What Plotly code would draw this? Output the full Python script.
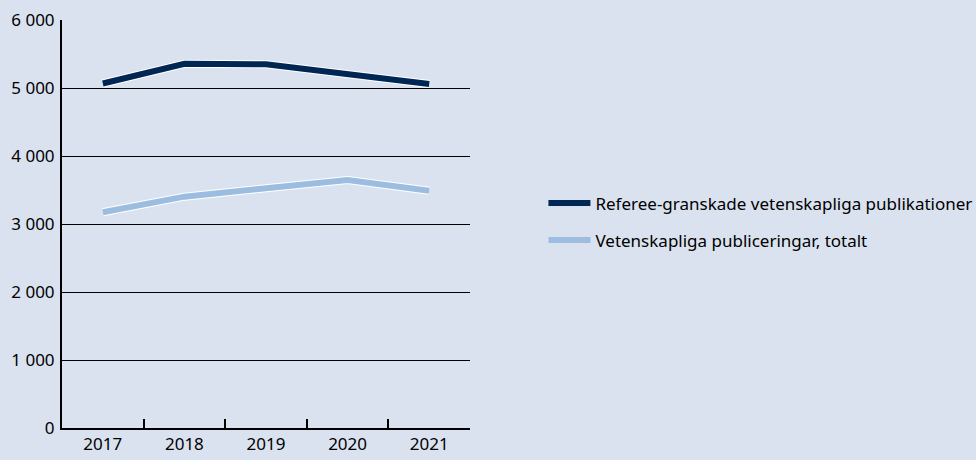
import plotly.graph_objects as go

years = ['2017', '2018', '2019', '2020', '2021']
referee = [5066, 5355, 5350, 5206, 5060]
totalt = [3172, 3402, 3525, 3647, 3490]

y_ticks = [0, 1000, 2000, 3000, 4000, 5000, 6000]
y_labels = ['0', '1 000', '2 000', '3 000', '4 000', '5 000', '6 000']

names = ['Referee-granskade vetenskapliga publikationer', 'Vetenskapliga publiceringar, totalt']
colors = ['#002654', '#9dbde0']
bg = '#dbe2ef'

fig = go.Figure()

# white outline under each line, then the coloured line on top
for i, (vals, name, col) in enumerate([(referee, names[0], colors[0]), (totalt, names[1], colors[1])]):
    fig.add_trace(go.Scatter(x=years, y=vals, mode='lines', showlegend=False,
                             hoverinfo='skip', line=dict(color='white', width=8)))
    fig.add_trace(go.Scatter(x=years, y=vals, mode='lines', name=name,
                             legendgroup=str(i), line=dict(color=col, width=6)))

fig.update_layout(
    width=976, height=460,
    paper_bgcolor=bg, plot_bgcolor=bg,
    margin=dict(l=62, r=506, t=20, b=32, autoexpand=False),
    font=dict(family='Noto Sans', size=17, color='black'),
    legend=dict(x=1.18, y=0.505, xanchor='left', yanchor='middle',
                bgcolor='rgba(0,0,0,0)', tracegroupgap=12, itemwidth=42,
                font=dict(size=17)),
    xaxis=dict(type='category', showgrid=False, showline=True, linecolor='black',
               linewidth=2, ticks='inside', tickson='boundaries', ticklen=9,
               tickwidth=2, tickcolor='black', range=[-0.5, 4.5], automargin=False),
    yaxis=dict(range=[0, 6000], tickvals=y_ticks, ticktext=y_labels,
               showgrid=True, gridcolor='black', gridwidth=1, zeroline=False,
               showline=True, linecolor='black', linewidth=2, ticks='',
               ticklabelstandoff=2, automargin=False),
)

fig.write_html("out.html", config={'displayModeBar': False},
               post_script="document.body.style.margin='0';")
